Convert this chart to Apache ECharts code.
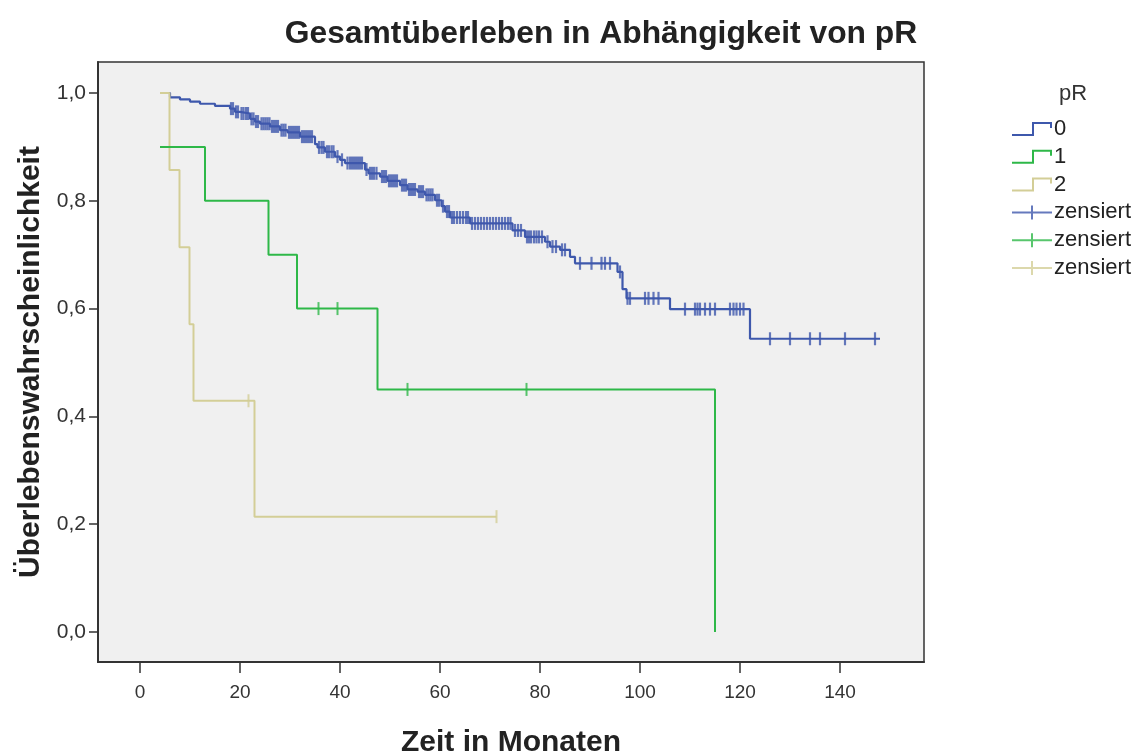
<!DOCTYPE html>
<html>
<head>
<meta charset="utf-8">
<script src="https://cdn.jsdelivr.net/npm/echarts@6/dist/echarts.min.js"></script>
<style>
html,body{margin:0;padding:0;background:#fff;}
#chart{width:1141px;height:753px;}
</style>
</head>
<body>
<div id="chart"></div>
<script>
// ---- data ----
var titleText = 'Gesamtüberleben in Abhängigkeit von pR';
var xTicks = [0, 20, 40, 60, 80, 100, 120, 140];
var yTicks = [0, 0.2, 0.4, 0.6, 0.8, 1.0];

// Kaplan-Meier steps: [time, survival after step]
var stepsR0 = [
  [4,1.0],[6,0.992],[8,0.988],[10,0.984],[12,0.980],[15,0.976],[18,0.971],[19,0.965],
  [20,0.962],[22,0.952],[23,0.947],[24,0.943],[26,0.938],[28,0.931],[29.5,0.927],[32,0.919],
  [35,0.905],[35.5,0.899],[37,0.891],[39,0.882],[40,0.876],[41,0.870],[45,0.858],[45.7,0.851],
  [48,0.845],[49.5,0.837],[52,0.829],[53.5,0.821],[55.5,0.817],[57,0.811],[59,0.801],[60.3,0.790],
  [61,0.780],[62,0.769],[66,0.758],[74.5,0.745],[77,0.733],[81,0.724],[82,0.715],[84,0.709],
  [86,0.696],[87,0.684],[95.5,0.668],[96.5,0.636],[97.3,0.619],[106,0.599],[122,0.544],[148,0.544]
];
var censR0 = [
  18.2,18.6,19.2,19.6,20.3,20.7,21.2,21.6,22.3,22.7,23.2,23.6,24.3,24.7,25.1,25.5,25.9,26.4,26.8,
  27.2,27.6,28.3,28.7,29.1,29.8,30.2,30.6,31,31.4,31.8,32.4,32.8,33.2,33.6,34,34.4,35.8,36.3,36.7,
  37.4,37.8,38.3,38.7,39.5,40.4,41.5,42,42.4,42.8,43.2,43.6,44,44.4,45.3,46,46.4,46.8,47.3,48.4,
  48.8,49.2,49.8,50.2,50.6,51,51.4,52.4,52.8,53.2,53.8,54.2,54.6,55,55.8,56.2,56.6,57.3,57.7,58.1,
  58.5,59.4,59.8,60.6,61.4,61.8,62.4,62.8,63.4,64,64.6,65.2,65.6,66.4,67,67.6,68.2,68.8,69.4,70,
  70.6,71.2,71.8,72.4,73,73.6,74.1,75,75.6,76.2,77.4,77.8,78.2,78.8,79.3,79.8,80.4,81.5,82.5,83.2,
  84.4,85,88,90.3,92.3,93,94,96,97.5,98,101,101.7,102.7,103.7,
  109,111,111.5,112,113,114,115,118,118.7,119.3,120,120.7,126,130,134,136,141,147
];
var stepsR1 = [[4,0.9],[13,0.8],[25.7,0.7],[31.4,0.6],[47.5,0.45],[115,0.0]];
var censR1 = [35.7,39.5,53.5,77.3];
var stepsR2 = [[4,1.0],[5.9,0.857],[7.9,0.714],[9.9,0.571],[10.7,0.429],[22.9,0.214],[71.3,0.214]];
var censR2 = [21.7,71.3];

var groupNames = ['0', '1', '2'];
var censorLabel = 'zensiert';
var colors = ['#3E58AC', '#2EB848', '#D3CE97'];

// ---- helpers ----
function survAt(steps, t) {
  var s = steps[0][1];
  for (var i = 0; i < steps.length; i++) { if (steps[i][0] <= t) s = steps[i][1]; }
  return s;
}
function censorPoints(steps, times) {
  return times.map(function (t) { return [t, survAt(steps, t)]; });
}
var stepIcon = 'path://M0,12L20,12L20,0L40,0L40,6L38,6L38,2L22,2L22,14L0,14Z';
var plusIcon = 'path://M0,6L19,6L19,0L21,0L21,6L40,6L40,8L21,8L21,14L19,14L19,8L0,8Z';

var allSteps = [stepsR0, stepsR1, stepsR2];
var allCens = [censR0, censR1, censR2];
var censNames = [censorLabel, censorLabel + '\u200b', censorLabel + '\u200b\u200b'];

var series = [];
var zOrder = [3, 5, 4];
var lineW = [2.2, 2, 2];
var markW = [2.2, 2, 2];
for (var g = 0; g < 3; g++) {
  series.push({
    name: groupNames[g], type: 'line', step: 'end', data: allSteps[g],
    showSymbol: false, symbol: 'none', z: zOrder[g],
    lineStyle: { color: colors[g], width: lineW[g] }, itemStyle: { color: colors[g] }
  });
}
for (var g2 = 0; g2 < 3; g2++) {
  series.push({
    name: censNames[g2], type: 'scatter', data: censorPoints(allSteps[g2], allCens[g2]),
    symbol: 'rect', symbolSize: [markW[g2], 13], z: zOrder[g2],
    itemStyle: { color: colors[g2] }
  });
}

var legendData = groupNames.map(function (n) { return { name: n, icon: stepIcon }; })
  .concat(censNames.map(function (n) { return { name: n, icon: plusIcon }; }));

var chart = echarts.init(document.getElementById('chart'), null, { renderer: 'canvas' });
chart.setOption({
  animation: false,
  backgroundColor: '#ffffff',
  textStyle: { fontFamily: 'Liberation Sans, Arial, sans-serif' },
  title: [
    { text: titleText, left: 596, top: 13, textAlign: 'center',
      textStyle: { fontSize: 31.8, fontWeight: 'bold', color: '#222', fontFamily: 'Liberation Sans' } },
    { text: 'pR', left: 1054, top: 78,
      textStyle: { fontSize: 22, fontWeight: 'normal', color: '#333', fontFamily: 'Liberation Sans' } }
  ],
  legend: {
    orient: 'vertical', left: 1012, top: 118, padding: 0,
    itemWidth: 40, itemHeight: 14, itemGap: 5.8,
    itemStyle: { borderWidth: 0 },
    textStyle: { fontSize: 22, color: '#222', padding: [0, 0, 0, -3] },
    data: legendData
  },
  grid: {
    left: 98, top: 62, right: 217, bottom: 91, outerBoundsMode: 'none',
    show: true, backgroundColor: '#f0f0f0', borderColor: '#333', borderWidth: 1.5
  },
  xAxis: {
    type: 'value', min: -8.4, max: 156.8,
    name: 'Zeit in Monaten', nameLocation: 'middle', nameGap: 66,
    nameTextStyle: { fontSize: 30, fontWeight: 'bold', color: '#222' },
    axisLine: { show: true, onZero: false, lineStyle: { color: '#333', width: 2 } },
    axisTick: { show: true, customValues: xTicks, length: 11, lineStyle: { color: '#333', width: 1.5 } },
    axisLabel: { customValues: xTicks, fontSize: 19, color: '#333', margin: 21 },
    splitLine: { show: false }
  },
  yAxis: {
    type: 'value', min: -0.0557, max: 1.0575,
    name: 'Überlebenswahrscheinlichkeit', nameLocation: 'middle', nameGap: 51, nameRotate: 90,
    nameTextStyle: { fontSize: 30, fontWeight: 'bold', color: '#222' },
    axisLine: { show: true, onZero: false, lineStyle: { color: '#333', width: 2 } },
    axisTick: { show: true, customValues: yTicks, length: 9, lineStyle: { color: '#333', width: 1.5 } },
    axisLabel: { customValues: yTicks, fontSize: 21, color: '#333', margin: 12,
      formatter: function (v) { return v.toFixed(1).replace('.', ','); } },
    splitLine: { show: false }
  },
  series: series
});
</script>
</body>
</html>
